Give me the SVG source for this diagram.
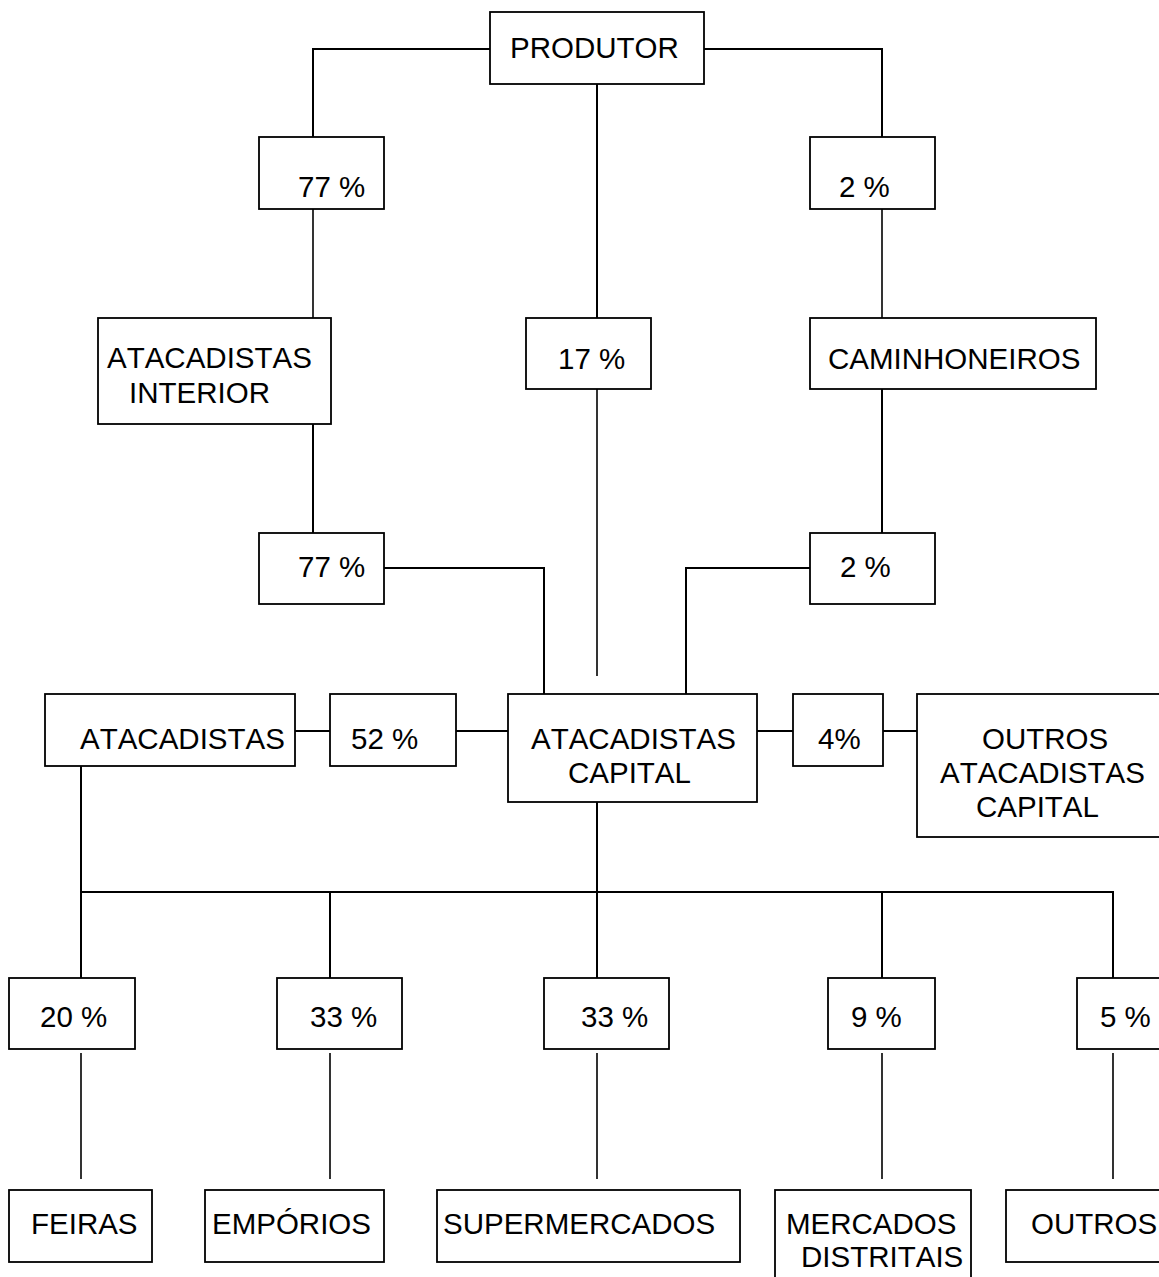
<svg xmlns="http://www.w3.org/2000/svg" width="1159" height="1277" viewBox="0 0 1159 1277">
  <style>
    .box { fill: #fff; stroke: #000; stroke-width: 1.8; }
    .lbl { font-family: "Liberation Sans", Arial, sans-serif; font-size: 29.5px; fill: #000; font-kerning: none; }
    .wire { fill: none; stroke: #000; stroke-width: 2; }
    .thin { fill: none; stroke: #000; stroke-width: 1.6; }
  </style>
  <rect width="1159" height="1277" fill="#fff"/>

  <g id="connectors">
    <path class="wire" d="M490,49 H313 V137"/>
    <path class="wire" d="M704,49 H882 V137"/>
    <path class="wire" d="M597,84 V318"/>
    <path class="thin" d="M597,389 V676"/>
    <path class="thin" d="M313,209 V318"/>
    <path class="thin" d="M882,209 V318"/>
    <path class="wire" d="M313,424 V533"/>
    <path class="wire" d="M882,389 V533"/>
    <path class="wire" d="M384,568 H544 V694"/>
    <path class="wire" d="M810,568 H686 V694"/>
    <path class="wire" d="M295,731 H330"/>
    <path class="wire" d="M456,731 H508"/>
    <path class="wire" d="M757,731 H793"/>
    <path class="wire" d="M883,731 H917"/>
    <path class="wire" d="M81,766 V979"/>
    <path class="wire" d="M597,802 V979"/>
    <path class="wire" d="M81,892 H1113 V979"/>
    <path class="wire" d="M330,892 V979"/>
    <path class="wire" d="M882,892 V979"/>
    <path class="thin" d="M81,1053 V1179 M330,1053 V1179 M597,1053 V1179 M882,1053 V1179 M1113,1053 V1179"/>
  </g>

  <g id="produtor"><rect class="box" x="490" y="12" width="214" height="72"/><text class="lbl" x="510" y="58">PRODUTOR</text></g>
  <g id="pct-interior-in"><rect class="box" x="259" y="137" width="125" height="72"/><text class="lbl" x="298" y="197">77 %</text></g>
  <g id="pct-caminhoneiros-in"><rect class="box" x="810" y="137" width="125" height="72"/><text class="lbl" x="839" y="197">2 %</text></g>
  <g id="atacadistas-interior"><rect class="box" x="98" y="318" width="233" height="106"/><text class="lbl" x="107" y="368">ATACADISTAS</text><text class="lbl" x="129" y="403">INTERIOR</text></g>
  <g id="pct-direto"><rect class="box" x="526" y="318" width="125" height="71"/><text class="lbl" x="558" y="369">17 %</text></g>
  <g id="caminhoneiros"><rect class="box" x="810" y="318" width="286" height="71"/><text class="lbl" x="828" y="369">CAMINHONEIROS</text></g>
  <g id="pct-interior-out"><rect class="box" x="259" y="533" width="125" height="71"/><text class="lbl" x="298" y="577">77 %</text></g>
  <g id="pct-caminhoneiros-out"><rect class="box" x="810" y="533" width="125" height="71"/><text class="lbl" x="840" y="577">2 %</text></g>
  <g id="atacadistas"><rect class="box" x="45" y="694" width="250" height="72"/><text class="lbl" x="80" y="749">ATACADISTAS</text></g>
  <g id="pct-atacadistas"><rect class="box" x="330" y="694" width="126" height="72"/><text class="lbl" x="351" y="749">52 %</text></g>
  <g id="atacadistas-capital"><rect class="box" x="508" y="694" width="249" height="108"/><text class="lbl" x="531" y="749">ATACADISTAS</text><text class="lbl" x="568" y="783">CAPITAL</text></g>
  <g id="pct-outros-atacadistas"><rect class="box" x="793" y="694" width="90" height="72"/><text class="lbl" x="818" y="749">4%</text></g>
  <g id="outros-atacadistas-capital"><rect class="box" x="917" y="694" width="260" height="143"/><text class="lbl" x="982" y="749">OUTROS</text><text class="lbl" x="940" y="783">ATACADISTAS</text><text class="lbl" x="976" y="817">CAPITAL</text></g>
  <g id="pct-feiras"><rect class="box" x="9" y="978" width="126" height="71"/><text class="lbl" x="40" y="1027">20 %</text></g>
  <g id="pct-emporios"><rect class="box" x="277" y="978" width="125" height="71"/><text class="lbl" x="310" y="1027">33 %</text></g>
  <g id="pct-supermercados"><rect class="box" x="544" y="978" width="125" height="71"/><text class="lbl" x="581" y="1027">33 %</text></g>
  <g id="pct-mercados"><rect class="box" x="828" y="978" width="107" height="71"/><text class="lbl" x="851" y="1027">9 %</text></g>
  <g id="pct-outros"><rect class="box" x="1077" y="978" width="100" height="71"/><text class="lbl" x="1100" y="1027">5 %</text></g>
  <g id="feiras"><rect class="box" x="9" y="1190" width="143" height="72"/><text class="lbl" x="31" y="1234">FEIRAS</text></g>
  <g id="emporios"><rect class="box" x="205" y="1190" width="179" height="72"/><text class="lbl" x="212" y="1234">EMPÓRIOS</text></g>
  <g id="supermercados"><rect class="box" x="437" y="1190" width="303" height="72"/><text class="lbl" x="443" y="1234">SUPERMERCADOS</text></g>
  <g id="mercados-distritais"><rect class="box" x="775" y="1190" width="196" height="100"/><text class="lbl" x="786" y="1234">MERCADOS</text><text class="lbl" x="801" y="1267">DISTRITAIS</text></g>
  <g id="outros"><rect class="box" x="1006" y="1190" width="170" height="72"/><text class="lbl" x="1031" y="1234">OUTROS</text></g>
</svg>
